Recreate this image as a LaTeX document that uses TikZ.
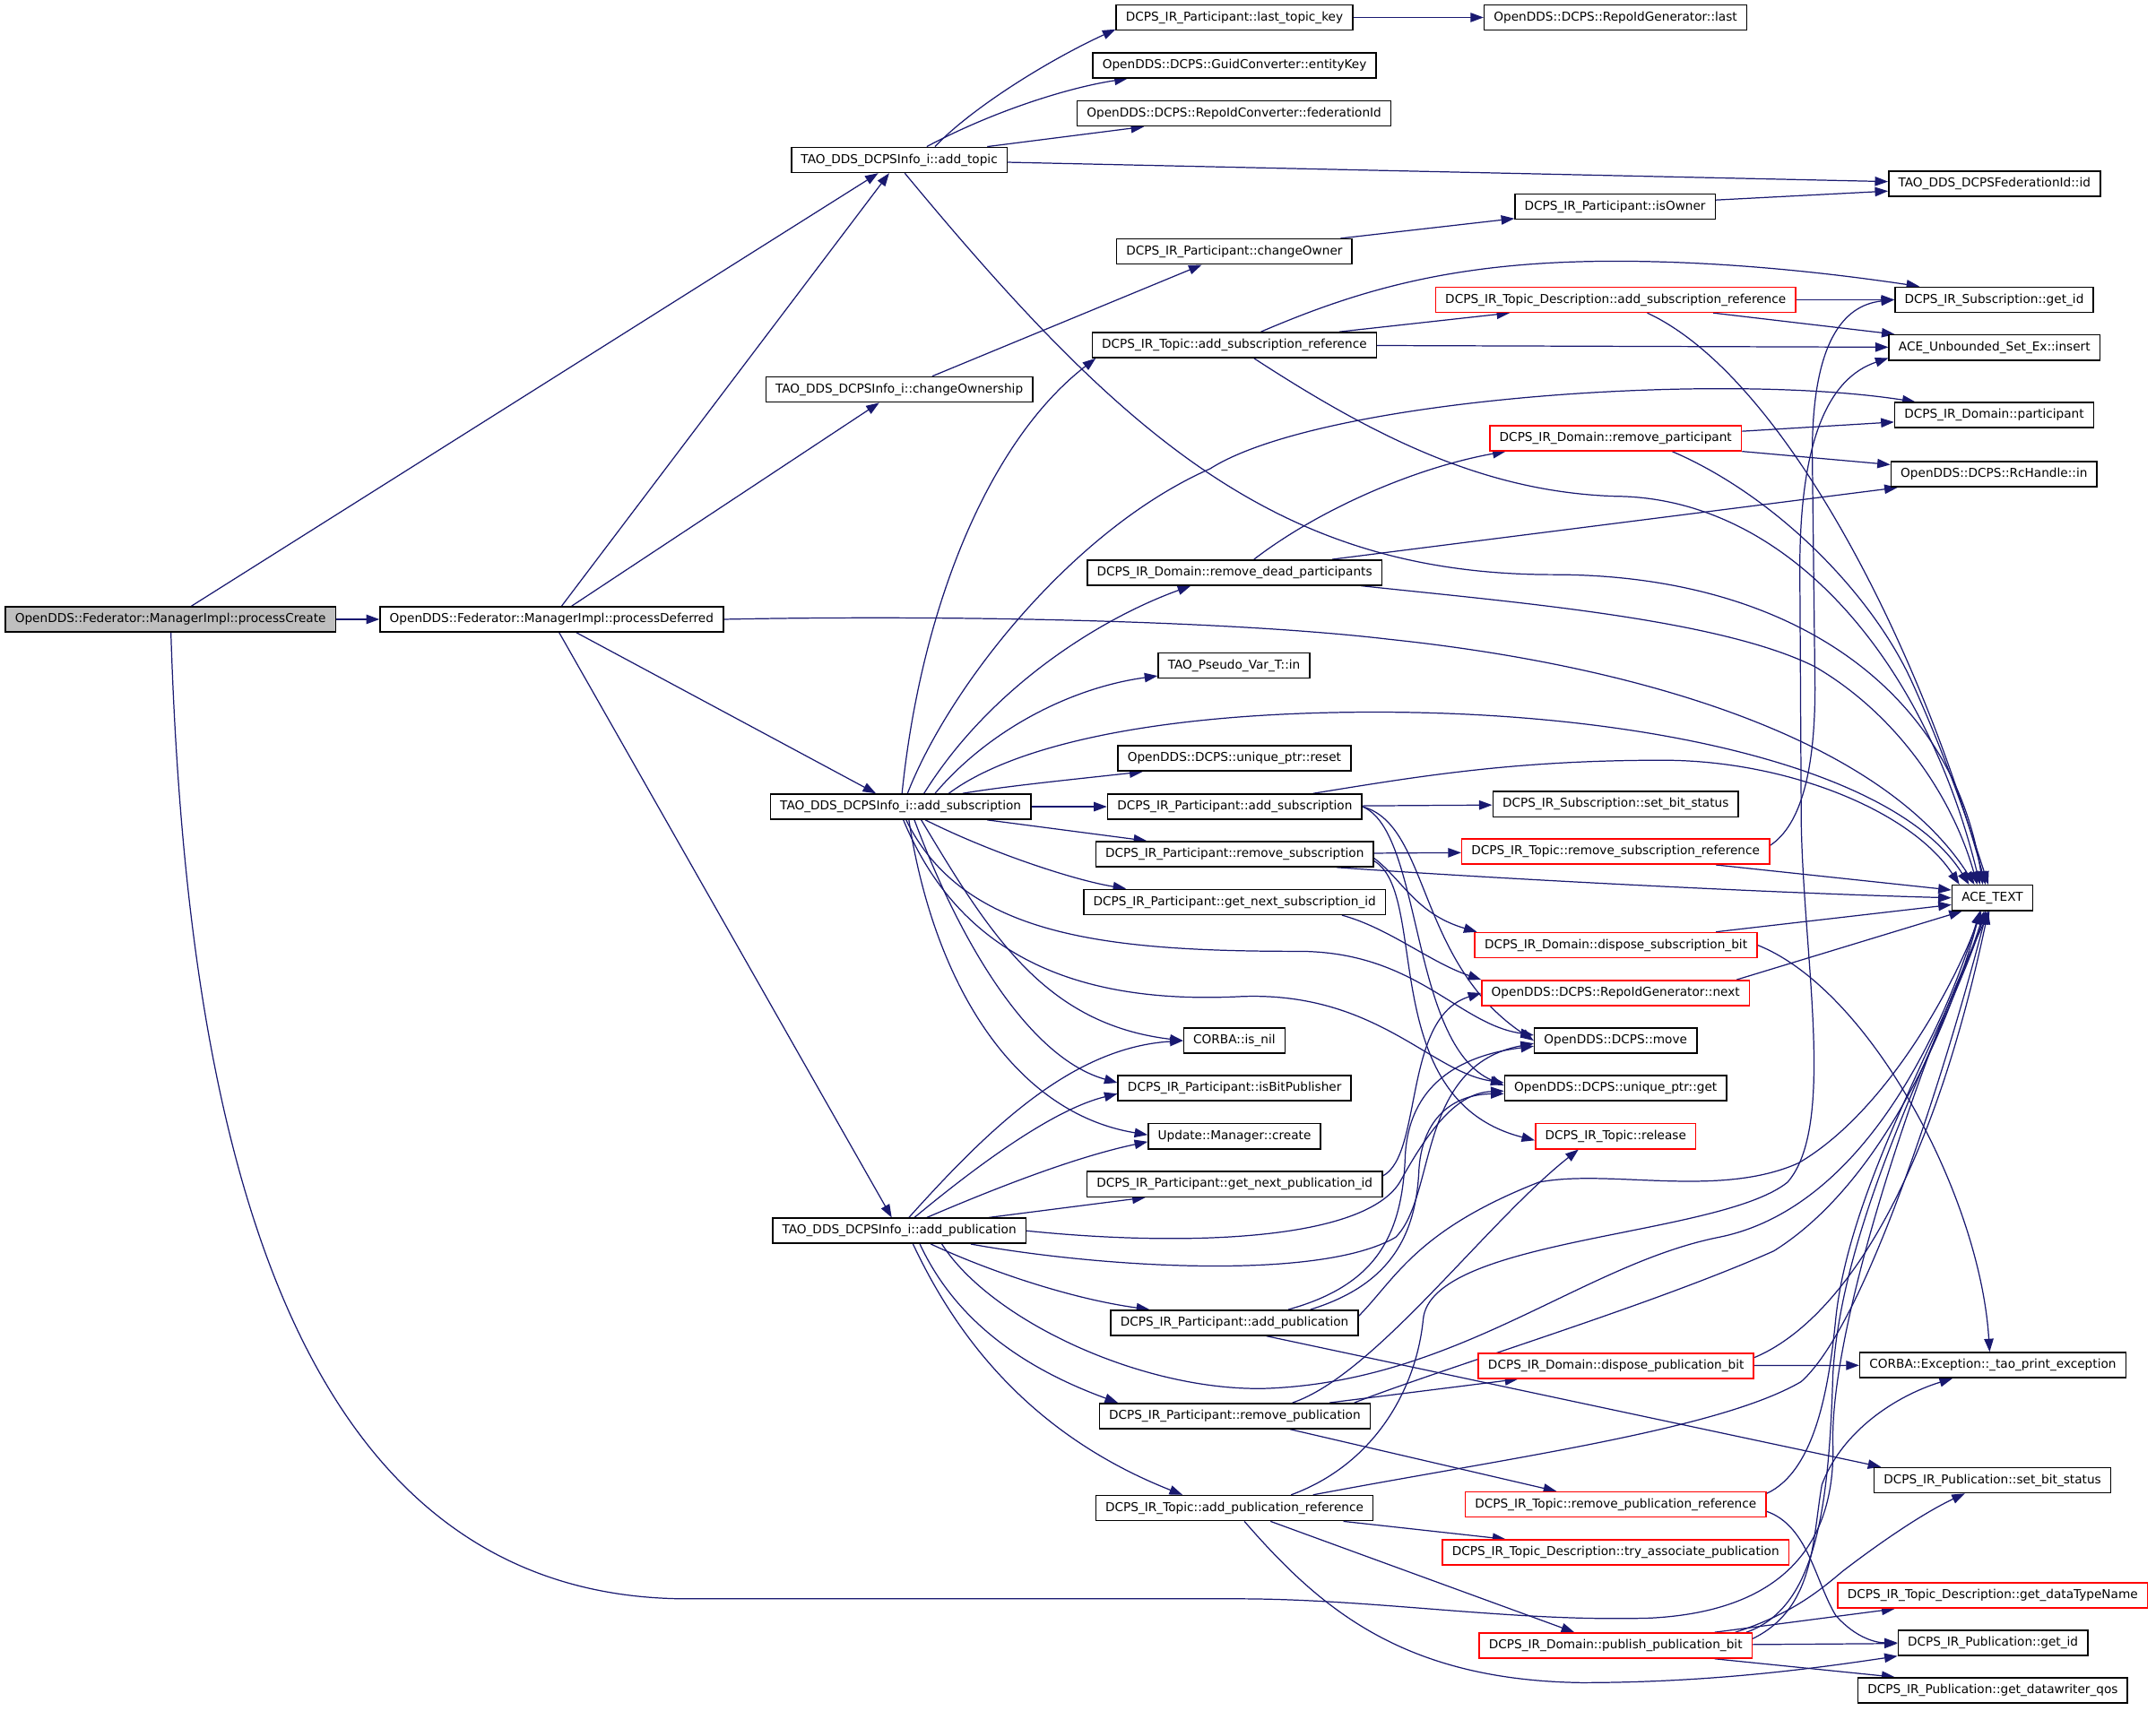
\documentclass[tikz,border=0pt]{standalone}
\usepackage{fontspec}
\setmainfont{DejaVu Sans}
\usetikzlibrary{arrows.meta,backgrounds}
\definecolor{edgec}{HTML}{191970}
\definecolor{rootfill}{HTML}{BFBFBF}
\tikzset{
  nd/.style={draw=black, line width=1pt, fill=white, font=\fontsize{8.9}{10}\selectfont,
    inner xsep=7pt, inner ysep=0pt, minimum height=18.3pt, text height=6.7pt, text depth=1.9pt},
  rnd/.style={nd, draw=red},
  rootnd/.style={nd, fill=rootfill},
  cedge/.style={draw=edgec, line width=0.8pt, -{Triangle[length=9.5pt,width=6.8pt]}},
}
\begin{document}
\begin{tikzpicture}[x=1pt,y=-1pt]
\useasboundingbox (0,0) rectangle (1568,1244.6);
% ---------- nodes ----------
\node[rootnd] (pc) at (124,450.5) {OpenDDS::Federator::ManagerImpl::processCreate};
\node[nd] (pd) at (401.2,450.5) {OpenDDS::Federator::ManagerImpl::processDeferred};
\node[nd] (at) at (654,116.3) {TAO\_DDS\_DCPSInfo\_i::add\_topic};
\node[nd] (co) at (654,283.3) {TAO\_DDS\_DCPSInfo\_i::changeOwnership};
\node[nd] (as) at (655,586.8) {TAO\_DDS\_DCPSInfo\_i::add\_subscription};
\node[nd] (ap) at (654,895.3) {TAO\_DDS\_DCPSInfo\_i::add\_publication};
\node[nd] (ltk) at (897.8,12.7) {DCPS\_IR\_Participant::last\_topic\_key};
\node[nd] (rlast) at (1174.9,12.7) {OpenDDS::DCPS::RepoIdGenerator::last};
\node[nd] (ek) at (897.8,47.5) {OpenDDS::DCPS::GuidConverter::entityKey};
\node[nd] (fid) at (897.5,82.5) {OpenDDS::DCPS::RepoIdConverter::federationId};
\node[nd] (fedid) at (1450.5,133.8) {TAO\_DDS\_DCPSFederationId::id};
\node[nd] (iso) at (1174.6,150.3) {DCPS\_IR\_Participant::isOwner};
\node[nd] (cown) at (897.7,183) {DCPS\_IR\_Participant::changeOwner};
\node[rnd] (tdasr) at (1175,218) {DCPS\_IR\_Topic\_Description::add\_subscription\_reference};
\node[nd] (sgid) at (1450.3,218) {DCPS\_IR\_Subscription::get\_id};
\node[nd] (tasr) at (897.7,251) {DCPS\_IR\_Topic::add\_subscription\_reference};
\node[nd] (ins) at (1450.5,252.8) {ACE\_Unbounded\_Set\_Ex::insert};
\node[nd] (dpart) at (1450.3,302) {DCPS\_IR\_Domain::participant};
\node[rnd] (rpart) at (1175,318.7) {DCPS\_IR\_Domain::remove\_participant};
\node[nd] (rcin) at (1450.2,345) {OpenDDS::DCPS::RcHandle::in};
\node[nd] (rdp) at (897.8,416.5) {DCPS\_IR\_Domain::remove\_dead\_participants};
\node[nd] (tpv) at (897.5,484) {TAO\_Pseudo\_Var\_T::in};
\node[nd] (rst) at (897.7,551.7) {OpenDDS::DCPS::unique\_ptr::reset};
\node[nd] (psub) at (898,586.8) {DCPS\_IR\_Participant::add\_subscription};
\node[nd] (ssbs) at (1175,585) {DCPS\_IR\_Subscription::set\_bit\_status};
\node[nd] (rsub) at (897.9,621.3) {DCPS\_IR\_Participant::remove\_subscription};
\node[rnd] (rsr) at (1175,619.5) {DCPS\_IR\_Topic::remove\_subscription\_reference};
\node[nd] (ace) at (1449,653.1) {ACE\_TEXT};
\node[nd] (gnsi) at (897.9,656.1) {DCPS\_IR\_Participant::get\_next\_subscription\_id};
\node[rnd] (dsb) at (1175.2,687.5) {DCPS\_IR\_Domain::dispose\_subscription\_bit};
\node[rnd] (rnext) at (1175,722.3) {OpenDDS::DCPS::RepoIdGenerator::next};
\node[nd] (isnil) at (897.7,757) {CORBA::is\_nil};
\node[nd] (mv) at (1175,757) {OpenDDS::DCPS::move};
\node[nd] (ibp) at (897.9,791.6) {DCPS\_IR\_Participant::isBitPublisher};
\node[nd] (uget) at (1175,791.6) {OpenDDS::DCPS::unique\_ptr::get};
\node[nd] (umc) at (897.8,826.5) {Update::Manager::create};
\node[rnd] (rel) at (1175,826.5) {DCPS\_IR\_Topic::release};
\node[nd] (gnpi) at (897.9,861.4) {DCPS\_IR\_Participant::get\_next\_publication\_id};
\node[nd] (ppub) at (897.8,962.2) {DCPS\_IR\_Participant::add\_publication};
\node[rnd] (dpb) at (1175.3,993.5) {DCPS\_IR\_Domain::dispose\_publication\_bit};
\node[nd] (tpe) at (1449.3,993) {CORBA::Exception::\_tao\_print\_exception};
\node[nd] (rpub) at (898,1030) {DCPS\_IR\_Participant::remove\_publication};
\node[nd] (psbs) at (1449,1076.7) {DCPS\_IR\_Publication::set\_bit\_status};
\node[rnd] (rpr) at (1175,1094.4) {DCPS\_IR\_Topic::remove\_publication\_reference};
\node[nd] (apr) at (897.8,1097) {DCPS\_IR\_Topic::add\_publication\_reference};
\node[rnd] (tap) at (1175,1129.3) {DCPS\_IR\_Topic\_Description::try\_associate\_publication};
\node[rnd] (gdtn) at (1449.2,1160.6) {DCPS\_IR\_Topic\_Description::get\_dataTypeName};
\node[rnd] (ppb) at (1175,1197) {DCPS\_IR\_Domain::publish\_publication\_bit};
\node[nd] (pgid) at (1449.4,1195) {DCPS\_IR\_Publication::get\_id};
\node[nd] (qos) at (1449.3,1229.6) {DCPS\_IR\_Publication::get\_datawriter\_qos};
% ---------- edges ----------
\begin{pgfonlayer}{background}
% processCreate
\draw[cedge] (pc) -- (at);
\draw[cedge] (pc) -- (pd);
\draw[cedge] (pc) .. controls (135,800) and (200,1163) .. (500,1163) -- (900,1163) .. controls (1000,1163) and (1100,1180) .. (1200,1177) .. controls (1300,1172) and (1335,1120) .. (1333,1050) .. controls (1331,960) and (1400,760) .. (ace.south -| 1447,0);
% processDeferred
\draw[cedge] (pd) -- (at);
\draw[cedge] (pd) -- (co);
\draw[cedge] (pd) -- (as);
\draw[cedge] (pd) -- (ap);
\draw[cedge] (pd.east) .. controls (700,447) and (900,452) .. (1010,465) .. controls (1200,485) and (1370,540) .. (ace.north -| 1436,0);
% add_topic
\draw[cedge] (at.north -| 680,0) .. controls (705,80) and (760,45) .. ([yshift=1pt]ltk.south west);
\draw[cedge] (at.north -| 674,0) .. controls (720,82) and (775,64) .. (ek.south -| 820,0);
\draw[cedge] (at.north -| 718,0) -- (fid.south -| 832,0);
\draw[cedge] (at) -- (fedid);
\draw[cedge] (at.south -| 658,0) .. controls (817,318) and (930,418) .. (1130,418) .. controls (1300,418) and (1420,500) .. (ace.north -| 1442,0);
\draw[cedge] (ltk) -- (rlast);
% changeOwnership
\draw[cedge] (co.north -| 678,0) -- (cown.south -| 874,0);
\draw[cedge] (cown.north -| 975,0) -- ([yshift=1pt]iso.south west);
\draw[cedge] ([yshift=4.8pt]iso.east) -- ([yshift=-5.2pt]fedid.west);
% topic add_subscription_reference
\draw[cedge] (as.north -| 656,0) .. controls (670,440) and (720,320) .. ([xshift=3pt]tasr.south west);
\draw[cedge] (tasr.north -| 974,0) -- (tdasr.south -| 1098,0);
\draw[cedge] (tasr.north -| 917,0) .. controls (990,210) and (1060,190) .. (1175,190) .. controls (1260,190) and (1340,200) .. (sgid.north -| 1396,0);
\draw[cedge] (tasr) -- (ins);
\draw[cedge] (tasr.south -| 912,0) .. controls (1000,318) and (1080,358) .. (1175,361) .. controls (1300,362) and (1400,480) .. (ace.north -| 1440,0);
% topic description add_subscription_reference
\draw[cedge] (tdasr) -- (sgid);
\draw[cedge] (tdasr.south -| 1246,0) -- (ins.north -| 1378,0);
\draw[cedge] (tdasr.south -| 1198,0) .. controls (1300,275) and (1400,480) .. (ace.north -| 1444,0);
% long vertical ones
\draw[cedge] ([yshift=4.5pt]rsr.east) .. controls (1310,600) and (1320,560) .. (1320,500) -- (1318,330) .. controls (1318,250) and (1340,222) .. (sgid.west);
\draw[cedge] (apr.north -| 939,0) .. controls (1000,1065) and (1030,1010) .. (1035,960) .. controls (1040,900) and (1250,900) .. (1300,860) .. controls (1335,820) and (1312,700) .. (1310,600) -- (1309,420) .. controls (1308,320) and (1330,275) .. ([yshift=2pt]ins.south west);
% add_subscription (TAO)
\draw[cedge] (as.north -| 660,0) .. controls (690,500) and (780,385) .. (880,341) .. controls (960,290) and (1250,270) .. (dpart.north -| 1393,0);
\draw[cedge] (as.north -| 672,0) .. controls (720,500) and (800,450) .. (rdp.south -| 866,0);
\draw[cedge] (as.north -| 680,0) .. controls (720,530) and (780,500) .. ([yshift=2pt]tpv.south west);
\draw[cedge] (as.north -| 690,0) .. controls (740,540) and (850,518) .. (1000,518) .. controls (1200,518) and (1380,560) .. (ace.north -| 1432,0);
\draw[cedge] (as.north -| 700,0) .. controls (730,572) and (780,567) .. (rst.south -| 831,0);
\draw[cedge] (as) -- (psub);
\draw[cedge] (as.south -| 718,0) -- (rsub.north -| 834,0);
\draw[cedge] (as.south -| 673,0) .. controls (720,620) and (780,640) .. (gnsi.north -| 819,0);
\draw[cedge] (as.south -| 659,0) .. controls (700,680) and (800,692) .. (944,692) .. controls (1030,692) and (1060,745) .. ([yshift=4pt]mv.west);
\draw[cedge] (as.south -| 657,0) .. controls (700,700) and (790,730) .. (900,725) .. controls (1000,720) and (1040,780) .. ([yshift=4pt]uget.west);
\draw[cedge] (as.south -| 670,0) .. controls (720,680) and (760,745) .. (isnil.west);
\draw[cedge] (as.south -| 665,0) .. controls (700,690) and (750,770) .. ([yshift=4pt]ibp.west);
\draw[cedge] (as.south -| 661,0) .. controls (680,720) and (740,810) .. ([yshift=1pt]umc.west);
% participant add_subscription
\draw[cedge] (psub) -- (ssbs);
\draw[cedge] (psub.north -| 955,0) .. controls (1030,565) and (1100,553) .. (1209,553) .. controls (1300,553) and (1390,590) .. (ace.north -| 1425,0);
\draw[cedge] (psub.east) .. controls (1040,600) and (1030,700) .. (mv.west);
\draw[cedge] (psub.east) .. controls (1035,605) and (1025,760) .. ([yshift=2pt]uget.west);
% remove_subscription
\draw[cedge] (rsub) -- (rsr);
\draw[cedge] (rsub.south -| 972,0) .. controls (1100,640) and (1300,650) .. (ace.west);
\draw[cedge] ([yshift=-3pt]rsub.east) .. controls (1020,640) and (1030,665) .. ([xshift=2pt]dsb.north west);
\draw[cedge] ([yshift=-5pt]rsub.east) .. controls (1040,650) and (1000,800) .. ([yshift=-3pt]rel.west);
\draw[cedge] (rsr.south -| 1248,0) -- ([yshift=5.7pt]ace.west);
\draw[cedge] (dsb.north -| 1248,0) -- ([yshift=-5pt]ace.west);
\draw[cedge] (dsb.east) .. controls (1360,720) and (1440,870) .. (tpe.north -| 1447,0);
\draw[cedge] (rnext.north -| 1263,0) -- (ace.south -| 1427,0);
\draw[cedge] (gnsi.south -| 976,0) .. controls (1010,675) and (1040,700) .. (rnext.north west);
\draw[cedge] ([yshift=6pt]gnpi.east) .. controls (1035,840) and (1020,740) .. (rnext.west);
% add_publication (TAO)
\draw[cedge] (ap.north -| 661,0) .. controls (720,820) and (780,762) .. (isnil.west);
\draw[cedge] (ap.north -| 665,0) .. controls (720,840) and (770,806) .. ([yshift=-4pt]ibp.west);
\draw[cedge] (ap.north -| 674,0) .. controls (720,866) and (780,842) .. ([yshift=-4pt]umc.west);
\draw[cedge] (ap.north -| 719,0) -- (gnpi.south -| 833,0);
\draw[cedge] (ap.east) .. controls (850,906) and (990,905) .. (1018,860) .. controls (1040,820) and (1060,795) .. ([yshift=-2pt]uget.west);
\draw[cedge] (ap.south -| 706,0) .. controls (800,922) and (960,932) .. (1015,900) .. controls (1045,870) and (1030,775) .. ([yshift=-2pt]mv.west);
\draw[cedge] (ap.south -| 677,0) .. controls (720,925) and (780,945) .. (ppub.north -| 836,0);
\draw[cedge] (ap.south -| 669,0) .. controls (690,950) and (730,990) .. (rpub.north -| 813,0);
\draw[cedge] (ap.south -| 664,0) .. controls (690,960) and (740,1040) .. (apr.north -| 860,0);
\draw[cedge] (ap.south -| 685,0) .. controls (720,960) and (830,1012) .. (920,1010) .. controls (1060,1005) and (1150,920) .. (1250,900) .. controls (1350,880) and (1410,760) .. (ace.south -| 1440,0);
% participant add_publication
\draw[cedge] (ppub.south -| 921,0) -- (psbs.north -| 1368,0);
\draw[cedge] (ppub.north -| 937,0) .. controls (1000,935) and (1020,900) .. (1022,840) .. controls (1025,790) and (1060,768) .. ([yshift=-4pt]mv.west);
\draw[cedge] (ppub.north -| 953,0) .. controls (1010,935) and (1030,900) .. (1032,850) .. controls (1035,810) and (1060,796) .. ([yshift=-4pt]uget.west);
\draw[cedge] ([yshift=5pt]ppub.east) .. controls (1015,930) and (1030,895) .. (1119,860) .. controls (1170,850) and (1250,872) .. (1308,846) .. controls (1370,810) and (1420,720) .. (ace.south -| 1441,0);
% remove_publication
\draw[cedge] (rpub.north -| 940,0) .. controls (1000,1000) and (1080,890) .. (rel.south -| 1148,0);
\draw[cedge] (rpub.north -| 967,0) -- (dpb.south -| 1104,0);
\draw[cedge] (rpub.south -| 938,0) -- (rpr.north -| 1132,0);
\draw[cedge] (rpub.north -| 985,0) .. controls (1050,995) and (1200,950) .. (1290,910) .. controls (1370,860) and (1420,740) .. (ace.south -| 1440,0);
% add_publication_reference
\draw[cedge] (apr.south -| 977,0) -- (tap.north -| 1095,0);
\draw[cedge] (apr.south -| 924,0) -- (ppb.north -| 1145,0);
\draw[cedge] (apr.south -| 905,0) .. controls (960,1170) and (1020,1222) .. (1150,1224) .. controls (1250,1224) and (1330,1212) .. (pgid.south west);
\draw[cedge] (apr.north -| 955,0) .. controls (1100,1060) and (1250,1040) .. (1310,1005) .. controls (1360,960) and (1420,760) .. (ace.south -| 1445,0);
% remove_publication_reference
\draw[cedge] ([yshift=-5pt]rpr.east) .. controls (1315,1110) and (1320,1150) .. (1335,1175) .. controls (1350,1192) and (1365,1195) .. (pgid.west);
\draw[cedge] ([yshift=8pt]rpr.east) .. controls (1320,1070) and (1330,1010) .. (1335,960) .. controls (1345,860) and (1420,740) .. (ace.south -| 1443,0);
% dispose_publication_bit
\draw[cedge] (dpb) -- (tpe);
\draw[cedge] ([yshift=6pt]dpb.east) .. controls (1330,965) and (1400,880) .. (ace.south -| 1446,0);
% publish_publication_bit
\draw[cedge] (ppb.north -| 1247,0) -- (gdtn.south -| 1378,0);
\draw[cedge] (ppb) -- (pgid);
\draw[cedge] (ppb.south -| 1247,0) -- (qos.north -| 1378,0);
\draw[cedge] ([yshift=5pt]ppb.east) .. controls (1320,1170) and (1318,1120) .. (1325,1080) .. controls (1340,1040) and (1380,1015) .. (tpe.south -| 1420,0);
\draw[cedge] (ppb.north -| 1262,0) .. controls (1300,1175) and (1320,1160) .. (1340,1143) .. controls (1370,1120) and (1400,1100) .. (psbs.south -| 1429,0);
\draw[cedge] (ppb.north -| 1270,0) .. controls (1320,1170) and (1330,1100) .. (1333,1000) .. controls (1340,880) and (1420,740) .. (ace.south -| 1444,0);
% remove_dead_participants / remove_participant
\draw[cedge] (rdp.north -| 912,0) .. controls (960,370) and (1030,340) .. ([xshift=12pt]rpart.south west);
\draw[cedge] (rdp.north -| 969,0) -- (rcin.south -| 1380,0);
\draw[cedge] (rdp.south -| 990,0) .. controls (1100,438) and (1250,450) .. (1320,485) .. controls (1380,520) and (1420,580) .. (ace.north -| 1438,0);
\draw[cedge] ([yshift=5pt]rpart.east) -- ([yshift=-5pt]dpart.west);
\draw[cedge] (rpart.south east) -- ([yshift=7pt]rcin.west);
\draw[cedge] (rpart.south -| 1216,0) .. controls (1290,360) and (1360,430) .. (1390,495) .. controls (1415,550) and (1432,600) .. (ace.north -| 1446,0);
\end{pgfonlayer}
\end{tikzpicture}
\end{document}
